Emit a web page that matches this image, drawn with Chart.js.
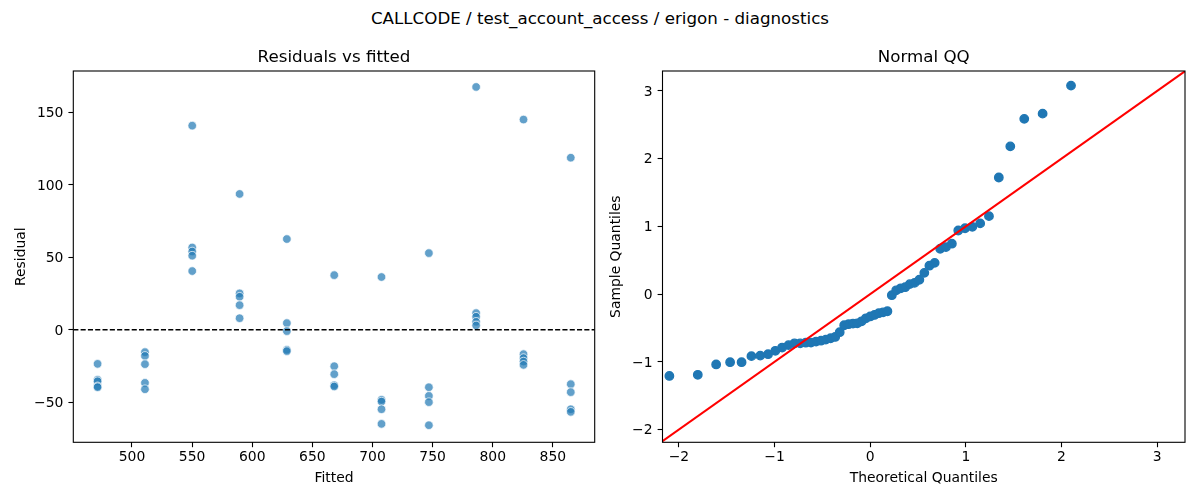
<!DOCTYPE html>
<html>
<head>
<meta charset="utf-8">
<script src="https://cdn.jsdelivr.net/npm/chart.js@4.4.1/dist/chart.umd.min.js"></script>
<style>
  html, body { margin: 0; padding: 0; background: #fff; }
  body { width: 1200px; height: 500px; position: relative; overflow: hidden; font-family: "DejaVu Sans", sans-serif; }
  #suptitle { position: absolute; left: 0; top: 9.9px; width: 1200px; text-align: center; font-size: 16.7px; line-height: 16.7px; color: #000; white-space: nowrap; }
  #wrapL { position: absolute; left: 0; top: 0; width: 600px; height: 500px; }
  #wrapR { position: absolute; left: 600px; top: 0; width: 600px; height: 500px; }
</style>
</head>
<body>
<div id="suptitle">CALLCODE / test_account_access / erigon - diagnostics</div>
<div id="wrapL"><canvas id="cL" width="600" height="500"></canvas></div>
<div id="wrapR"><canvas id="cR" width="600" height="500"></canvas></div>
<script>
// ---------- data: residuals vs fitted ----------
const fittedValues = [
  471.4, 471.4, 471.4, 471.4, 471.4,
  510.8, 510.8, 510.8, 510.8, 510.8,
  550.1, 550.1, 550.1, 550.1, 550.1,
  589.5, 589.5, 589.5, 589.5, 589.5,
  628.8, 628.8, 628.8, 628.8, 628.8,
  668.2, 668.2, 668.2, 668.2, 668.2,
  707.5, 707.5, 707.5, 707.5, 707.5,
  746.9, 746.9, 746.9, 746.9, 746.9,
  786.2, 786.2, 786.2, 786.2, 786.2,
  825.6, 825.6, 825.6, 825.6, 825.6,
  864.9, 864.9, 864.9, 864.9, 864.9
];
const residualValues = [
  -23.5, -34.5, -35.5, -39.0, -39.6,
  -15.4, -18.0, -23.7, -36.6, -41.0,
  140.8, 56.8, 54.0, 51.1, 40.5,
  93.7, 25.1, 22.8, 17.0, 8.0,
  62.6, 4.6, -0.9, -13.8, -14.7,
  37.7, -25.1, -30.6, -38.2, -39.1,
  36.4, -48.3, -49.5, -54.8, -64.9,
  52.9, -39.6, -45.6, -49.9, -65.8,
  167.5, 11.5, 9.0, 5.5, 3.0,
  145.0, -16.8, -19.5, -21.9, -24.2,
  118.7, -37.5, -43.0, -54.8, -56.6
];
const fittedAxisRange = [451.2, 884.8];
const residualAxisRange = [-77.6, 178.5];
const fittedTicks = [500, 550, 600, 650, 700, 750, 800, 850];
const residualTicks = [-50, 0, 50, 100, 150];

// ---------- data: normal QQ ----------
const theoreticalQuantiles = [
  -2.100, -1.803, -1.611, -1.465, -1.345, -1.242, -1.150, -1.068, -0.992, -0.921,
  -0.854, -0.792, -0.732, -0.674, -0.619, -0.566, -0.514, -0.464, -0.414, -0.366,
  -0.319, -0.272, -0.226, -0.180, -0.135, -0.090, -0.045, 0.000, 0.045, 0.090,
  0.135, 0.180, 0.226, 0.272, 0.319, 0.366, 0.414, 0.464, 0.514, 0.566,
  0.619, 0.674, 0.732, 0.792, 0.854, 0.921, 0.992, 1.068, 1.150, 1.242,
  1.345, 1.465, 1.611, 1.803, 2.100
];
const sampleQuantiles = [
  -1.210, -1.193, -1.040, -1.007, -1.007, -0.917, -0.910, -0.888, -0.838, -0.790,
  -0.754, -0.728, -0.728, -0.719, -0.717, -0.702, -0.689, -0.673, -0.653, -0.634,
  -0.563, -0.461, -0.445, -0.436, -0.432, -0.403, -0.358, -0.331, -0.309, -0.283,
  -0.270, -0.254, -0.017, 0.055, 0.085, 0.101, 0.147, 0.165, 0.211, 0.313,
  0.419, 0.461, 0.669, 0.693, 0.744, 0.939, 0.972, 0.993, 1.044, 1.151,
  1.722, 2.182, 2.588, 2.665, 3.079
];
const qqXRange = [-2.172, 3.292];
const qqYRange = [-2.19, 3.295];
const qqLineEnds = [-2.2, 3.3];
const qqXTicks = [-2, -1, 0, 1, 2, 3];
const qqYTicks = [-2, -1, 0, 1, 2, 3];

// ---------- shared styling ----------
const FONT = "'DejaVu Sans', sans-serif";
const fmt = v => String(v).replace('-', '\u2212');
const frame = {
  id: 'frame',
  afterDraw(chart) {
    const a = chart.chartArea, ctx = chart.ctx;
    ctx.save();
    ctx.strokeStyle = '#000';
    ctx.lineWidth = 1.1;
    ctx.strokeRect(a.left, a.top, a.right - a.left, a.bottom - a.top);
    ctx.restore();
  }
};
function axis(range, ticks, titleText, isX, fixedSize, titlePad) {
  return {
    type: 'linear',
    position: isX ? 'bottom' : 'left',
    min: range[0],
    max: range[1],
    afterBuildTicks: s => { s.ticks = ticks.map(v => ({ value: v })); },
    afterFit: s => {
      if (isX) s.height = fixedSize; else s.width = fixedSize;
      s.paddingLeft = 0; s.paddingRight = 0; s.paddingTop = 0; s.paddingBottom = 0;
    },
    border: { display: false },
    grid: { display: true, drawOnChartArea: false, drawTicks: true, tickLength: 4.9, tickWidth: 1.1, tickColor: '#000', color: '#000' },
    ticks: {
      includeBounds: false,
      autoSkip: false,
      maxRotation: 0,
      padding: isX ? 2.2 : 5.0,
      labelOffset: isX ? 0 : 1.2,
      color: '#000',
      font: { family: FONT, size: 13.9, lineHeight: 1.2 },
      callback: v => fmt(v)
    },
    title: {
      display: true,
      text: titleText,
      color: '#000',
      font: { family: FONT, size: 13.9, lineHeight: 1.2 },
      padding: isX ? { top: 0, bottom: titlePad } : { top: titlePad, bottom: 0 }
    }
  };
}
function plotTitle(text) {
  return {
    display: true,
    text: text,
    fullSize: false,
    color: '#000',
    font: { family: FONT, size: 16.7, weight: 'normal', lineHeight: 1.2 },
    padding: { top: 47.4, bottom: 3.56 }
  };
}

// ---------- left: residuals vs fitted ----------
new Chart(document.getElementById('cL'), {
  type: 'scatter',
  data: {
    datasets: [
      {
        type: 'line',
        data: fittedAxisRange.map(x => ({ x: x, y: 0 })),
        borderColor: '#000',
        borderWidth: 1.39,
        borderDash: [5.1, 2.2],
        pointRadius: 0,
        fill: false,
        showLine: true
      },
      {
        data: fittedValues.map((x, i) => ({ x: x, y: residualValues[i] })),
        backgroundColor: 'rgba(31,119,180,0.7)',
        borderColor: 'rgba(255,255,255,0.7)',
        borderWidth: 1,
        pointRadius: 4.3
      }
    ]
  },
  options: {
    responsive: false,
    animation: false,
    events: [],
    layout: { padding: { left: 0, right: 2.7, top: 0, bottom: 0 } },
    plugins: { legend: { display: false }, tooltip: { enabled: false }, title: plotTitle('Residuals vs fitted') },
    scales: {
      x: axis(fittedAxisRange, fittedTicks, 'Fitted', true, 57.7, 13.2),
      y: axis(residualAxisRange, residualTicks, 'Residual', false, 73.3, 13.5)
    }
  },
  plugins: [frame]
});

// ---------- right: normal QQ ----------
new Chart(document.getElementById('cR'), {
  type: 'scatter',
  data: {
    datasets: [
      {
        type: 'line',
        data: qqLineEnds.map(v => ({ x: v, y: v })),
        borderColor: '#ff0000',
        borderWidth: 2.08,
        pointRadius: 0,
        fill: false,
        showLine: true
      },
      {
        data: theoreticalQuantiles.map((x, i) => ({ x: x, y: sampleQuantiles[i] })),
        backgroundColor: '#1f77b4',
        borderColor: '#1f77b4',
        borderWidth: 1.4,
        pointRadius: 4.2
      }
    ]
  },
  options: {
    responsive: false,
    animation: false,
    events: [],
    layout: { padding: { left: 0, right: 15, top: 0, bottom: 0 } },
    plugins: { legend: { display: false }, tooltip: { enabled: false }, title: plotTitle('Normal QQ') },
    scales: {
      x: axis(qqXRange, qqXTicks, 'Theoretical Quantiles', true, 57.7, 13.2),
      y: axis(qqYRange, qqYTicks, 'Sample Quantiles', false, 62.5, 8.4)
    }
  },
  plugins: [frame]
});
</script>
</body>
</html>
